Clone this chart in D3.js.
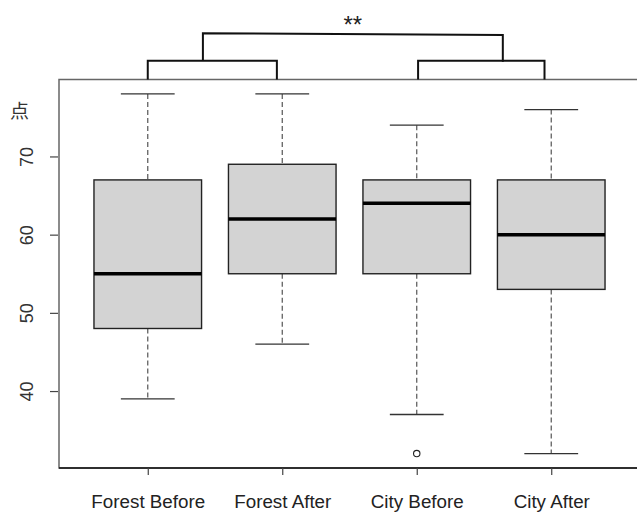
<!DOCTYPE html>
<html>
<head>
<meta charset="utf-8">
<script src="https://cdn.jsdelivr.net/npm/d3@7"></script>
<style>
  html, body { margin: 0; padding: 0; background: #fff; }
  svg { display: block; }
</style>
</head>
<body>
<svg id="chart" width="637" height="512"></svg>
<script>
// Score distributions per group: five-number summaries plus outliers
const groups    = ["Forest Before", "Forest After", "City Before", "City After"];
const whiskLow  = [39, 46, 37, 32];
const q1        = [48, 55, 55, 53];
const medians   = [55, 62, 64, 60];
const q3        = [67, 69, 67, 67];
const whiskHigh = [78, 78, 74, 76];
const outliers  = [[], [], [32], []];
const yTicks    = [40, 50, 60, 70];
const yLabel    = "点";

// Significance brackets: pairs spanning group positions (1-based), and a joining bar
const pairBrackets = [[1, 1.96], [3.01, 3.95]];
const joinBracket  = [1.41, 3.64];
const sigLabel     = "**";

const svg = d3.select("#chart");
const font = "'Liberation Sans', Arial, sans-serif";

// Plot region (R-style: data range padded by 4%)
const plot = { left: 59, right: 640, top: 79.5, bottom: 468 };

const x = d3.scaleLinear()
  .domain([0.5 - 0.16, 4.5 + 0.16])
  .range([plot.left, plot.right]);

const yMin = 32, yMax = 78, pad = (yMax - yMin) * 0.04;
const y = d3.scaleLinear()
  .domain([yMin - pad, yMax + pad])
  .range([plot.bottom, plot.top]);

const unit = x(2) - x(1);
const boxW = unit * 0.8;
const capW = boxW * 0.5;

const rows = groups.map((g, i) => ({
  g, i: i + 1,
  lo: whiskLow[i], q1: q1[i], med: medians[i], q3: q3[i], hi: whiskHigh[i],
  out: outliers[i]
}));

const gBox = svg.append("g");

const box = gBox.selectAll("g.box").data(rows).join("g").attr("class", "box");

// Whiskers (dashed)
box.append("line")
  .attr("x1", d => x(d.i)).attr("x2", d => x(d.i))
  .attr("y1", d => y(d.hi)).attr("y2", d => y(d.q3))
  .attr("stroke", "#555").attr("stroke-width", 1.2).attr("stroke-dasharray", "5,3");
box.append("line")
  .attr("x1", d => x(d.i)).attr("x2", d => x(d.i))
  .attr("y1", d => y(d.q1)).attr("y2", d => y(d.lo))
  .attr("stroke", "#555").attr("stroke-width", 1.2).attr("stroke-dasharray", "5,3");

// Caps
box.selectAll("line.cap").data(d => [d.hi, d.lo].map(v => ({ v, i: d.i }))).join("line")
  .attr("class", "cap")
  .attr("x1", d => x(d.i) - capW / 2).attr("x2", d => x(d.i) + capW / 2)
  .attr("y1", d => y(d.v)).attr("y2", d => y(d.v))
  .attr("stroke", "#333").attr("stroke-width", 1.3);

// Boxes
box.append("rect")
  .attr("x", d => x(d.i) - boxW / 2)
  .attr("width", boxW)
  .attr("y", d => y(d.q3))
  .attr("height", d => y(d.q1) - y(d.q3))
  .attr("fill", "#d3d3d3")
  .attr("stroke", "#222").attr("stroke-width", 1.4);

// Medians
box.append("line")
  .attr("x1", d => x(d.i) - boxW / 2).attr("x2", d => x(d.i) + boxW / 2)
  .attr("y1", d => y(d.med)).attr("y2", d => y(d.med))
  .attr("stroke", "#000").attr("stroke-width", 3.5);

// Outliers
box.selectAll("circle").data(d => d.out.map(v => ({ v, i: d.i }))).join("circle")
  .attr("cx", d => x(d.i)).attr("cy", d => y(d.v)).attr("r", 3.2)
  .attr("fill", "none").attr("stroke", "#222").attr("stroke-width", 1.1);

// Frame
svg.append("rect")
  .attr("x", plot.left).attr("y", plot.top)
  .attr("width", plot.right - plot.left).attr("height", plot.bottom - plot.top)
  .attr("fill", "none").attr("stroke", "#666").attr("stroke-width", 1.5);
svg.append("line")
  .attr("x1", plot.left).attr("x2", plot.right)
  .attr("y1", plot.bottom).attr("y2", plot.bottom)
  .attr("stroke", "#111").attr("stroke-width", 1.5);

// Y axis
const yAxis = svg.append("g")
  .attr("transform", `translate(${plot.left - 1},0)`)
  .call(d3.axisLeft(y).tickValues(yTicks).tickSize(8).tickSizeOuter(0));
yAxis.select(".domain").remove();
yAxis.selectAll(".tick line").attr("stroke", "#444").attr("stroke-width", 1.2);
yAxis.selectAll(".tick text")
  .attr("font-family", font).attr("font-size", 18).attr("fill", "#333")
  .attr("x", null).attr("dy", null)
  .attr("text-anchor", "middle")
  .attr("transform", "translate(-25,0) rotate(-90)");

// X axis
const xAxis = svg.append("g")
  .attr("transform", `translate(0,${plot.bottom})`)
  .call(d3.axisBottom(x).tickValues(rows.map(d => d.i)).tickFormat((d, k) => groups[k]).tickSize(7).tickSizeOuter(0));
xAxis.select(".domain").remove();
xAxis.selectAll(".tick line").attr("stroke", "#444").attr("stroke-width", 1.2);
xAxis.selectAll(".tick text")
  .attr("font-family", font).attr("font-size", 18.8).attr("fill", "#222")
  .attr("dy", null)
  .attr("y", 40);

// Y axis label
svg.append("text")
  .attr("x", 19.5).attr("y", 118)
  .attr("text-anchor", "middle")
  .attr("font-family", "'Noto Sans CJK SC', sans-serif")
  .attr("font-size", 19).attr("fill", "#333")
  .text(yLabel);

// Significance brackets
const bracket = svg.append("g").attr("fill", "none").attr("stroke", "#111").attr("stroke-width", 2);
const pairY = plot.top - 18.8;
pairBrackets.forEach(([a, b]) => {
  bracket.append("path")
    .attr("d", `M${x(a)},${plot.top}V${pairY}H${x(b)}V${plot.top}`);
});
bracket.append("path")
  .attr("d", `M${x(joinBracket[0])},${pairY}V${33.3}L${x(joinBracket[1])},${35}V${pairY + 1}`);

svg.append("text")
  .attr("x", (x(joinBracket[0]) + x(joinBracket[1])) / 2)
  .attr("y", 33)
  .attr("text-anchor", "middle")
  .attr("font-family", font).attr("font-size", 24).attr("fill", "#222")
  .text(sigLabel);
</script>
</body>
</html>
